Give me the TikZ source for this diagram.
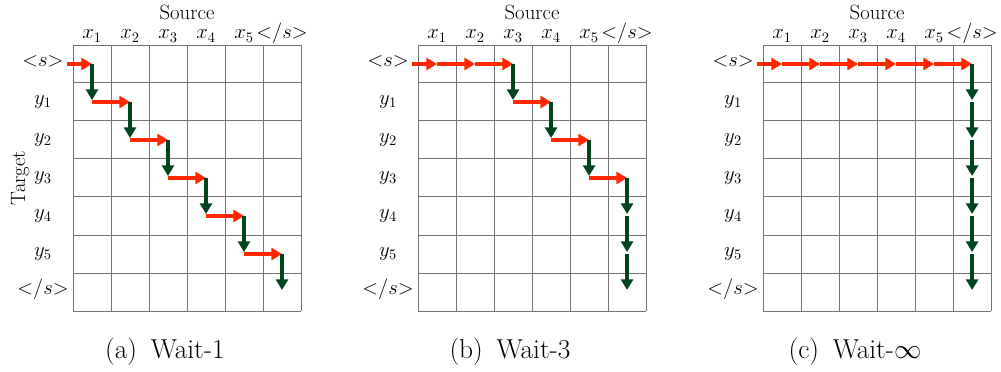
\documentclass[tikz,border=0pt]{standalone}
\usepackage{fix-cm}
\usetikzlibrary{arrows.meta}
\definecolor{wkred}{RGB}{255,38,0}
\definecolor{wkgreen}{RGB}{0,68,30}
\newcommand{\bossym}{{<}s{>}}
\newcommand{\eossym}{{<}/s{>}}
\tikzset{
  cellgrid/.style={draw=black!55,line width=0.75pt},
  readarr/.style={-{Triangle[length=8pt,width=9pt]},line width=2.6pt,draw=wkred},
  writearr/.style={-{Triangle[length=8pt,width=9pt]},line width=2.6pt,draw=wkgreen,shorten >=1.5pt},
  lbl/.style={font=\fontsize{15.5}{18}\selectfont,inner sep=0pt},
  captxt/.style={font=\fontsize{20.5}{24}\selectfont,inner sep=0pt,anchor=base},
}

\begin{document}
\begin{tikzpicture}
        \useasboundingbox (-1.921,1.184) rectangle (24.42,-8.605);
        % three panels: grid, labels, cell centres
        \foreach \p/\dx/\cap in {a/0/{(a)\enspace Wait-1},b/9.08/{(b)\enspace Wait-3},c/18.16/{(c)\enspace Wait-$\infty$}}{
          \begin{scope}[xshift=\dx cm]
            \draw[cellgrid] (0,0) grid (6,-7);
            \node[lbl,anchor=base] (\p-src) at (3,0.66) {Source};
            \foreach \c/\t in {0/x_1,1/x_2,2/x_3,3/x_4,4/x_5,5/\eossym}
              \node[lbl,anchor=base] (\p-x\c) at (\c+0.5,0.16) {$\t$};
            \foreach \r/\t in {0/\bossym,1/y_1,2/y_2,3/y_3,4/y_4,5/y_5,6/\eossym}
              \node[lbl,anchor=mid] (\p-y\r) at (-0.79,-\r-0.5) {$\t$};
            \foreach \c in {0,...,5}
              \foreach \r in {0,...,6}
                \coordinate (\p-\c-\r) at (\c+0.5,-\r-0.5);
            \coordinate (\p-in) at (-0.17,-0.5);
            \node[captxt] (\p-cap) at (2.42,-8.25) {\cap};
          \end{scope}
        }
        \node[lbl,rotate=90] (tgt) at (-1.39,-3.5) {Target};

        % (a) wait-1
        \draw[readarr] (a-in) -- (a-0-0);
        \foreach \i [evaluate=\i as \j using int(\i+1)] in {0,...,4}{
          \draw[writearr] (a-\i-\i) -- (a-\i-\j);
          \draw[readarr] (a-\i-\j) -- (a-\j-\j);
        }
        \draw[writearr] (a-5-5) -- (a-5-6);

        % (b) wait-3
        \draw[readarr] (b-in) -- (b-0-0);
        \draw[readarr] (b-0-0) -- (b-1-0);
        \draw[readarr] (b-1-0) -- (b-2-0);
        \foreach \i [evaluate=\i as \j using int(\i+1),evaluate=\i as \k using int(\i+2),evaluate=\i as \m using int(\i+3)] in {0,...,2}{
          \draw[writearr] (b-\k-\i) -- (b-\k-\j);
          \draw[readarr] (b-\k-\j) -- (b-\m-\j);
        }
        \foreach \i [evaluate=\i as \j using int(\i+1)] in {3,...,5}
          \draw[writearr] (b-5-\i) -- (b-5-\j);

        % (c) wait-inf
        \draw[readarr] (c-in) -- (c-0-0);
        \foreach \i [evaluate=\i as \j using int(\i+1)] in {0,...,4}
          \draw[readarr] (c-\i-0) -- (c-\j-0);
        \foreach \i [evaluate=\i as \j using int(\i+1)] in {0,...,5}
          \draw[writearr] (c-5-\i) -- (c-5-\j);
\end{tikzpicture}
\end{document}
